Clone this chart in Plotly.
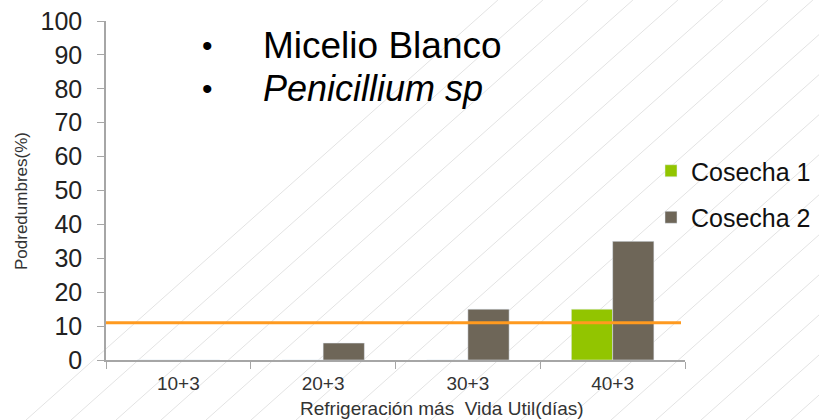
import plotly.graph_objects as go

# Data
categorias = ['10+3', '20+3', '30+3', '40+3']
cosecha_1 = [0, 0, 0, 15]
cosecha_2 = [0, 5, 15, 35]
umbral = 11

W, H = 819, 420
L, R, T, B = 106, 134, 21, 60
pw, ph = W - L - R, H - T - B


def px(x):
    return (x - L) / pw


def py(y):
    return (H - B - y) / ph


FONT = 'Liberation Sans, Arial, sans-serif'

fig = go.Figure()
fig.add_trace(go.Bar(x=categorias, y=cosecha_1, name='Cosecha 1',
                     marker_color='#92C500', legendgroup='a'))
fig.add_trace(go.Bar(x=categorias, y=cosecha_2, name='Cosecha 2',
                     marker_color='#6E6658', legendgroup='b'))

# diagonal hatch in the background
shapes = []
for k in range(-12, 20):
    c = 566 + k * 45
    shapes.append(dict(type='line', xref='paper', yref='paper', layer='below',
                       x0=px(c), y0=py(H), x1=px(c + H / 0.89), y1=py(0),
                       line=dict(color='#E3E3E3', width=1)))

# orange reference line
shapes.append(dict(type='line', xref='paper', yref='y', x0=0, x1=px(681),
                   y0=umbral, y1=umbral, line=dict(color='#FF9A1F', width=3)))


def note(text, x, y, size, color='black', **kw):
    return dict(text=text, x=px(x), y=py(y), xref='paper', yref='paper',
                showarrow=False, xanchor=kw.pop('xanchor', 'center'), yanchor='middle',
                font=dict(size=size, color=color, family=FONT), **kw)


annotations = [
    note('•', 207, 45, 30),
    note('•', 207, 88, 30),
    note('Micelio Blanco', 261, 45, 37, xanchor='left'),
    note('<i>Penicillium sp</i>', 261, 88, 36, xanchor='left'),
    note('Refrigeración más  Vida Util(días)', 442, 408, 19, color='#333333'),
    note('Podredumbres(%)', 22, 201, 17, color='#333333', textangle=-90),
]

fig.update_layout(
    width=W, height=H,
    margin=dict(l=L, r=R, t=T, b=B, autoexpand=False),
    plot_bgcolor='rgba(0,0,0,0)', paper_bgcolor='white',
    barmode='group', bargap=0.43, bargroupgap=0,
    font=dict(family=FONT, color='#222222'),
    shapes=shapes, annotations=annotations,
    legend=dict(x=px(651), y=py(148), xanchor='left', yanchor='top',
                font=dict(size=25, color='#111111'), tracegroupgap=11,
                itemwidth=30, bgcolor='rgba(0,0,0,0)'),
    xaxis=dict(showline=True, linecolor='#A6A6A6', linewidth=1.5, automargin=False,
               ticks='outside', tickson='boundaries', ticklen=7, tickcolor='#A6A6A6',
               ticklabelstandoff=5,
               tickfont=dict(size=19, color='#333333'), showgrid=False),
    yaxis=dict(range=[0, 100], dtick=10, showline=True, linecolor='#A6A6A6', linewidth=1.5,
               automargin=False, ticks='outside', ticklen=7, tickcolor='#A6A6A6',
               ticklabelstandoff=10, showgrid=False,
               zeroline=False, tickfont=dict(size=25, color='#222222')),
)

fig.write_html('out.html', config={'displayModeBar': False},
               post_script="document.body.style.margin='0';")
